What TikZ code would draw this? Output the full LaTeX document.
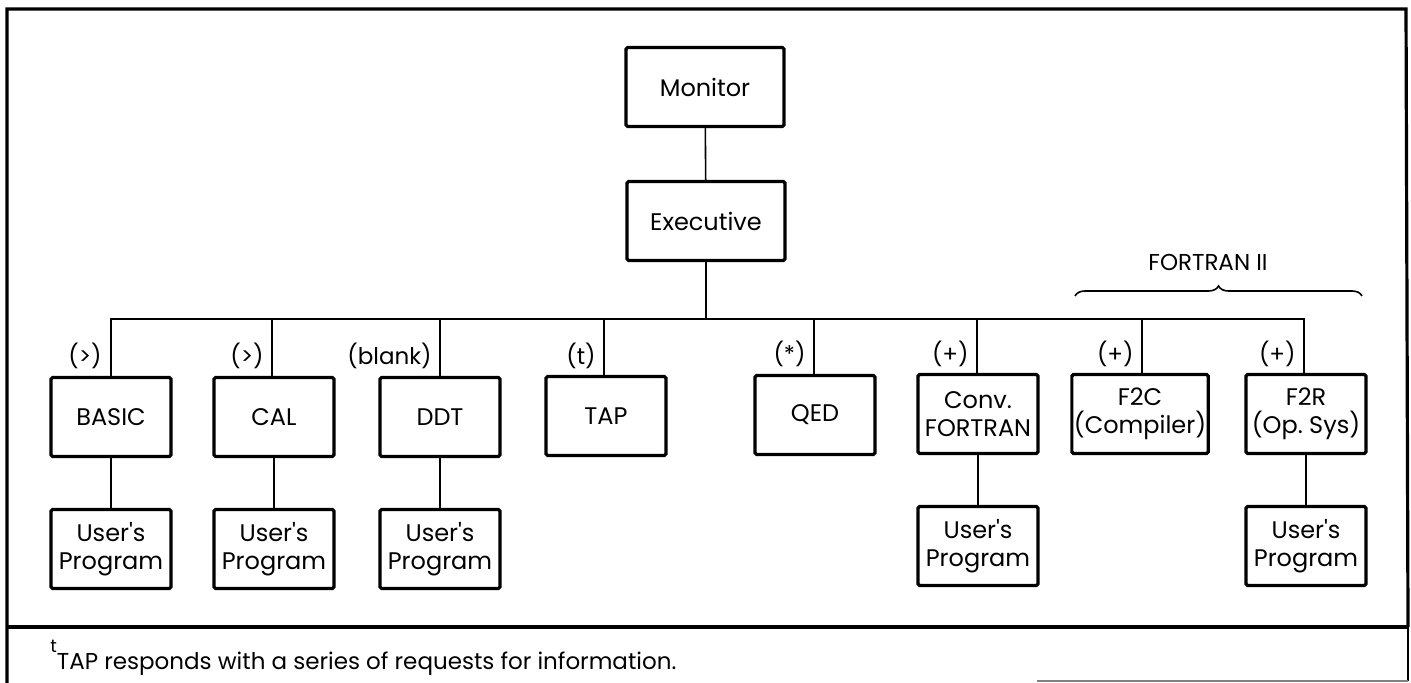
\documentclass[tikz,border=0pt]{standalone}
\usepackage{fontspec}
\setmainfont{Poppins}
% same face without TeX quote mapping, for straight apostrophes
\setmonofont{Poppins}
\usetikzlibrary{decorations.pathreplacing}
\newcommand{\usr}{User{\ttfamily '}s\\Program}
\tikzset{
  box/.style={draw, line width=1.6pt, rounded corners=0.8pt, minimum width=60pt,
    minimum height=39.5pt, inner sep=1pt, align=center, font=\fontsize{12}{14}\selectfont},
  link/.style={line width=0.8pt},
  code/.style={font=\fontsize{11.5}{13}\selectfont, anchor=south east, inner sep=1pt},
  frame/.style={line width=1.6pt}
}
\begin{document}
\begin{tikzpicture}[x=0.5pt,y=-0.5pt]
\useasboundingbox (0,0) rectangle (1411,683);

% outer frame and footnote rule
\draw[frame] (7,690) -- (7,9) -- (1406,9) -- (1408,627);
\draw[frame] (7,627) -- (1408,627);
\draw[line width=0.6pt] (1408,627) -- (1408,681);
\draw[line width=0.6pt, gray] (1037,681) -- (1408,681);

% top of the hierarchy
\node[box, minimum width=79pt] (mon) at (705,87) {Monitor};
\node[box, minimum width=79pt] (exe) at (706,221) {Executive};
\draw[link] (mon) -- (exe);

% second level
\node[box] (basic) at (111,417) {BASIC};
\node[box] (cal)   at (274,417) {CAL};
\node[box] (ddt)   at (440,417) {DDT};
\node[box] (tap)   at (606,416) {TAP};
\node[box] (qed)   at (815,415) {QED};
\node[box] (conv)  at (978,414) {Conv.\\FORTRAN};
\node[box] (ftc)   at (1140,414) {F2C\\(Compiler)};
\node[box] (ftr)   at (1306,414) {F2R\\(Op.~Sys)};

% user programs
\node[box] (ub) at (111,549) {\usr};
\node[box] (uc) at (274,549) {\usr};
\node[box] (ud) at (440,549) {\usr};
\node[box] (uf) at (978,546) {\usr};
\node[box] (ur) at (1306,546) {\usr};

% bus
\coordinate (bus) at (706,319);
\draw[link] (exe.south) -- (bus);
\draw[link] (basic.north) -- (111,319) -- (1304,319) -- (ftr.north -| 1304,0);
\foreach \n/\x in {cal/272, ddt/440, tap/604, qed/814, conv/977, ftc/1142}
  \draw[link] (\x,319) -- (\n.north -| \x,0);

\foreach \a/\b in {basic/ub, cal/uc, ddt/ud, conv/uf, ftr/ur}
  \draw[link] (\a) -- (\b);

% command characters
\node[code] (lb) at (104,371) {(>)};
\node[code] (lc) at (266,371) {(>)};
\node[code] (ld) at (434,371) {(blank)};
\node[code] (lt) at (598,371) {(t)};
\node[code] (lq) at (808,369) {(*)};
\node[code] (lf) at (971,369) {(+)};
\node[code] (l2) at (1136,369) {(+)};
\node[code] (lr) at (1298,369) {(+)};

% FORTRAN II grouping
\draw[line width=0.8pt, decorate, decoration={brace, amplitude=5pt}]
  (1075,296) -- (1362,296);
\node[font=\fontsize{11.5}{13}\selectfont] (f2) at (1208,262) {FORTRAN II};

% footnote
\node[anchor=base west, inner sep=0pt, font=\fontsize{11.5}{13}\selectfont] (fn) at (50,669)
  {\raisebox{1.3ex}{\fontsize{9}{10}\selectfont t}TAP responds with a series of requests for information.};
\end{tikzpicture}
\end{document}
